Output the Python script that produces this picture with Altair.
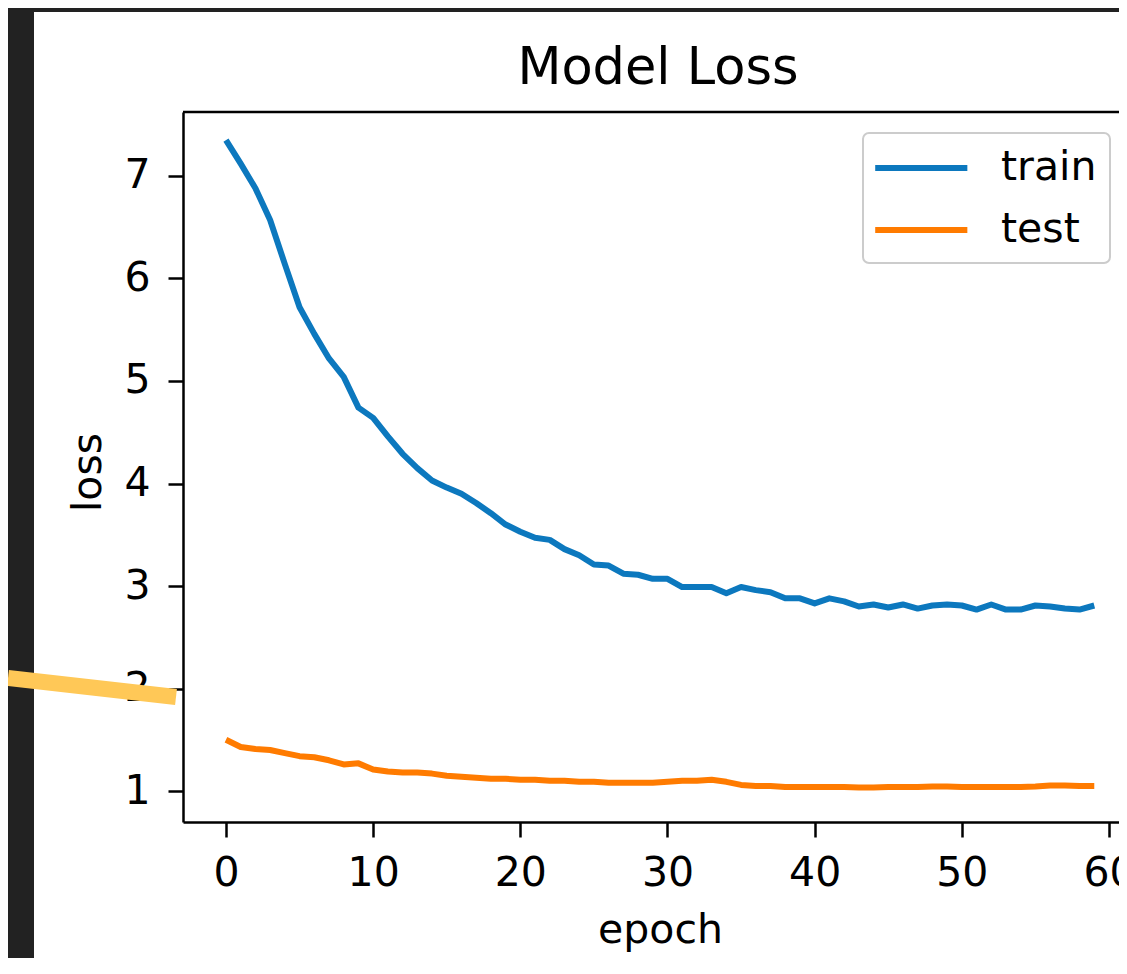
import altair as alt
import pandas as pd

epochs = list(range(60))
train_loss = [7.35, 7.12, 6.88, 6.57, 6.14, 5.72, 5.46, 5.22, 5.04, 4.74,
              4.64, 4.46, 4.29, 4.15, 4.03, 3.96, 3.90, 3.81, 3.71, 3.60,
              3.53, 3.47, 3.45, 3.36, 3.30, 3.21, 3.20, 3.12, 3.11, 3.07,
              3.07, 2.99, 2.99, 2.99, 2.93, 2.99, 2.96, 2.94, 2.88, 2.88,
              2.83, 2.88, 2.85, 2.80, 2.82, 2.79, 2.82, 2.78, 2.81, 2.82,
              2.81, 2.77, 2.82, 2.77, 2.77, 2.81, 2.80, 2.78, 2.77, 2.81]
test_loss = [1.50, 1.43, 1.41, 1.40, 1.37, 1.34, 1.33, 1.30, 1.26, 1.27,
             1.21, 1.19, 1.18, 1.18, 1.17, 1.15, 1.14, 1.13, 1.12, 1.12,
             1.11, 1.11, 1.10, 1.10, 1.09, 1.09, 1.08, 1.08, 1.08, 1.08,
             1.09, 1.10, 1.10, 1.11, 1.09, 1.06, 1.05, 1.05, 1.04, 1.04,
             1.04, 1.04, 1.04, 1.035, 1.035, 1.04, 1.04, 1.04, 1.045, 1.045,
             1.04, 1.04, 1.04, 1.04, 1.04, 1.045, 1.055, 1.055, 1.05, 1.05]
series_names = ["train", "test"]
series_colors = ["#0c78be", "#ff7b00"]
x_ticks = [0, 10, 20, 30, 40, 50, 60]
y_ticks = [1, 2, 3, 4, 5, 6, 7]

df = pd.DataFrame({
    "epoch": epochs + epochs,
    "loss": train_loss + test_loss,
    "series": [series_names[0]] * len(epochs) + [series_names[1]] * len(epochs),
})
one = pd.DataFrame({"k": [0]})

FONT = "DejaVu Sans"
W, H = 936, 710
BOTTOM_PAD = 136

x_enc = alt.X(
    "epoch:Q",
    scale=alt.Scale(domain=[-2.92, 60.68], nice=False, zero=False),
    axis=alt.Axis(
        values=x_ticks, title="epoch", grid=False,
        labelFont=FONT, labelFontSize=41, labelColor="black",
        labelBaseline="alphabetic", labelPadding=48, labelFlush=False,
        labelBound=False, labelOverlap=False,
        tickSize=15, tickWidth=2.5, tickColor="black",
        domainColor="black", domainWidth=2.5,
        titleFont=FONT, titleFontSize=41, titleFontWeight="normal",
        titleColor="black", titleBaseline="alphabetic",
        titleX=477, titleY=120, titleAlign="center",
        zindex=0,
    ),
)
y_enc = alt.Y(
    "loss:Q",
    scale=alt.Scale(domain=[0.698, 7.624], nice=False, zero=False),
    axis=alt.Axis(
        values=y_ticks, title="loss", grid=False,
        labelFont=FONT, labelFontSize=41, labelColor="black",
        labelPadding=18, labelOverlap=False, labelFlush=False,
        tickSize=15, tickWidth=2.5, tickColor="black",
        domainColor="black", domainWidth=2.5,
        titleFont=FONT, titleFontSize=41, titleFontWeight="normal",
        titleColor="black", titleBaseline="alphabetic", titleAngle=270,
        titleX=-83, titleY=360, titleAlign="center",
        zindex=0,
    ),
)

lines = alt.Chart(df).mark_line(strokeWidth=6, strokeJoin="round").encode(
    x=x_enc,
    y=y_enc,
    color=alt.Color(
        "series:N",
        scale=alt.Scale(domain=series_names, range=series_colors),
        legend=alt.Legend(
            orient="none", legendX=680, legendY=21, title=None,
            labelFont=FONT, labelFontSize=41, labelColor="black",
            symbolType="M-1.2,0H3.65", symbolSize=1444, symbolStrokeWidth=6,
            labelOffset=81, padding=13, rowPadding=20,
            strokeColor="#cccccc", fillColor="white", cornerRadius=6,
        ),
    ),
    detail="series:N",
)

top_frame = alt.Chart(one).mark_rule(color="black", strokeWidth=2.5).encode(
    x=alt.value(0), x2=alt.value(W), y=alt.value(0)
)
left_band = alt.Chart(one).mark_rect(color="#222222").encode(
    x=alt.value(-175), x2=alt.value(-149), y=alt.value(-104), y2=alt.value(H + BOTTOM_PAD)
)
top_band = alt.Chart(one).mark_rect(color="#222222").encode(
    x=alt.value(-175), x2=alt.value(W), y=alt.value(-104), y2=alt.value(-100)
)
yellow = alt.Chart(one).mark_rule(color="#ffc857", strokeWidth=16, strokeCap="butt").encode(
    x=alt.value(-175), y=alt.value(566), x2=alt.value(-7), y2=alt.value(585)
)

chart = alt.layer(left_band, top_band, lines, top_frame, yellow).properties(
    width=W, height=H,
    padding={"left": 175, "top": 104, "right": 0, "bottom": BOTTOM_PAD},
    autosize=alt.AutoSizeParams(type="none"),
    background="white",
    title=alt.Title(
        "Model Loss", font=FONT, fontSize=51, fontWeight="normal", color="black",
        baseline="alphabetic", offset=0, frame="group", anchor="middle", dx=7, dy=127,
    ),
).configure_view(stroke="transparent").configure_legend(strokeWidth=2)

chart.save("out.html", embed_options={"renderer": "svg", "actions": False})
